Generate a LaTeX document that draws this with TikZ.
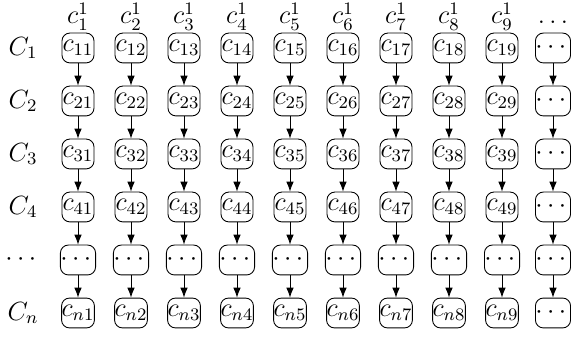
\documentclass[tikz,border=0pt]{standalone}
\usepackage{amsmath}
\usepackage{amssymb}
\usepackage{tikz}
\usetikzlibrary{arrows.meta}

\tikzset{
  cellbox/.style={draw, rounded corners=3.6pt, minimum width=14.6pt, minimum height=13.6pt, inner sep=0pt},
  down/.style={-{Latex[length=4.5pt,width=3.4pt]}}
}

\begin{document}
\begin{tikzpicture}[x=0.016cm,y=-0.016cm,font=\large]
  \useasboundingbox (0,0) rectangle (571,338);
  % column heads
  \foreach \j in {1,...,9} { \node[anchor=base,inner sep=0pt] (top\j) at ({78+53*(\j-1)},24) {$c^1_{\j}$}; }
  \node[anchor=base,inner sep=0pt] (top10) at (553,24) {$\ldots$};
  % row heads
  \foreach \i/\lab in {1/C_1,2/C_2,3/C_3,4/C_4,5/\cdots,6/C_n} { \node (row\i) at (23,{48+53*(\i-1)}) {$\lab$}; }
  % cells
  \foreach \i/\r in {1/1,2/2,3/3,4/4,6/n} {
    \foreach \j in {1,...,9} { \node[cellbox] (c\i-\j) at ({78+53*(\j-1)},{48+53*(\i-1)}) {$c_{\r\j}$}; }
    \node[cellbox] (c\i-10) at (553,{48+53*(\i-1)}) {$\cdots$};
  }
  \foreach \j in {1,...,9} { \node[cellbox] (c5-\j) at ({78+53*(\j-1)},260) {$\cdots$}; }
  \node[cellbox] (c5-10) at (553,260) {$\cdots$};
  % links
  \foreach \i in {1,...,5} {
    \pgfmathtruncatemacro{\k}{\i+1}
    \foreach \j in {1,...,10} { \draw[down] (c\i-\j) -- (c\k-\j); }
  }
\end{tikzpicture}
\end{document}
